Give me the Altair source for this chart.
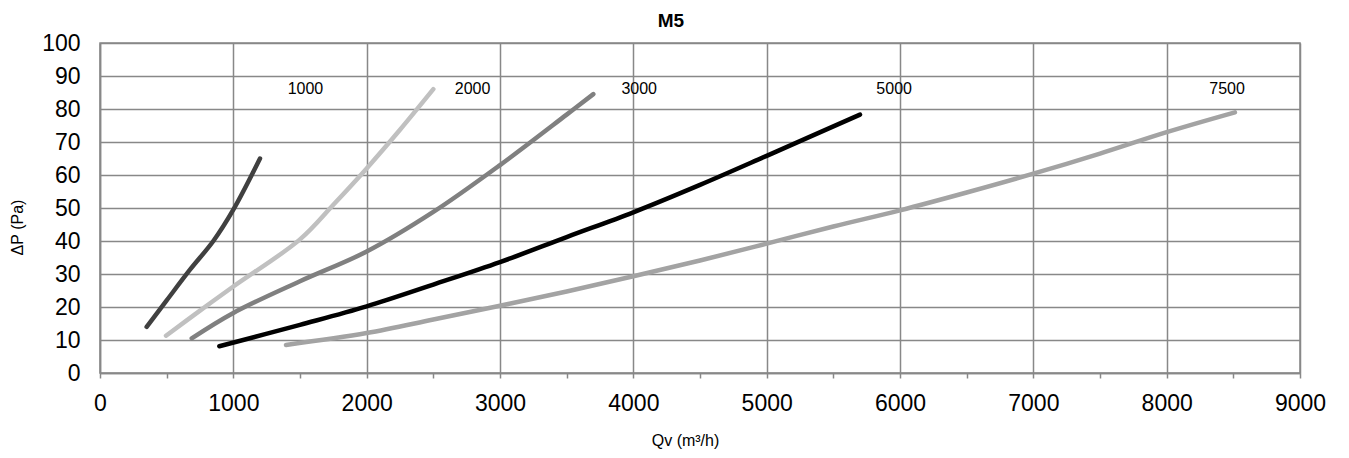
import altair as alt
import pandas as pd

# ---- data ----
series_names = ["1000", "2000", "3000", "5000", "7500"]
series_colors = ["#404040", "#c0c0c0", "#808080", "#000000", "#a3a3a3"]

s1000_q = [350, 500, 675, 850, 1000, 1200]
s1000_p = [14, 22, 31.3, 40.0, 49.5, 65]

s2000_q = [495, 750, 1000, 1500, 1750, 2000, 2250, 2500]
s2000_p = [11.3, 18.9, 26.2, 40.5, 51, 62, 73.7, 86]

s3000_q = [688, 1000, 1500, 2000, 2500, 3000, 3500, 3700]
s3000_p = [10.5, 18.2, 27.8, 36.8, 48.8, 63, 78.3, 84.5]

s5000_q = [895, 1500, 2000, 2500, 3000, 3500, 4000, 4500, 5000, 5700]
s5000_p = [8.1, 14.6, 20.2, 26.8, 33.6, 41.2, 48.7, 57, 65.8, 78.3]

s7500_q = [1395, 2000, 2500, 3000, 3500, 4000, 4500, 5000, 5500, 6000, 6500, 7000, 7500, 8000, 8512]
s7500_p = [8.5, 12.1, 16.2, 20.4, 24.7, 29.3, 34.1, 39.2, 44.4, 49.3, 54.7, 60.4, 66.5, 73, 79]

label_text = ["1000", "2000", "3000", "5000", "7500"]
label_q = [1541, 2794, 4044, 5956, 8453]
label_p = [86, 86, 86, 86, 86]

x_ticks = list(range(0, 9001, 500))
y_ticks = list(range(0, 101, 10))

# ---- build table ----
rows = []
for name, qs, ps in zip(series_names,
                        [s1000_q, s2000_q, s3000_q, s5000_q, s7500_q],
                        [s1000_p, s2000_p, s3000_p, s5000_p, s7500_p]):
    for i, (q, p) in enumerate(zip(qs, ps)):
        rows.append({"series": name, "q": q, "p": p, "idx": i})
df = pd.DataFrame(rows)
labels = pd.DataFrame({"t": label_text, "q": label_q, "p": label_p})

FONT = "Liberation Sans"
GRID = "#888888"

xscale = alt.Scale(domain=[0, 9000], nice=False, zero=False)
yscale = alt.Scale(domain=[0, 100], nice=False)

xaxis = alt.Axis(
    values=x_ticks,
    format="d",
    title="Qv (m³/h)",
    grid=True,
    gridOpacity={"condition": {"test": "datum.value % 1000 === 0", "value": 1}, "value": 0},
    labelExpr="datum.value % 1000 === 0 ? datum.label : ''",
    labelOverlap=False,
    labelFlush=False,
    labelFontSize=23,
    labelPadding=14,
    ticks=True,
    tickSize=5,
    tickColor=GRID,
    tickWidth=1.5,
    titleFontSize=16,
    titleFontWeight="normal",
    titleX=585,
    titleY=72,
    titleBaseline="alphabetic",
)
yaxis = alt.Axis(
    values=y_ticks,
    format="d",
    title="ΔP (Pa)",
    grid=True,
    ticks=True,
    tickSize=0,
    tickOpacity=0,
    labelFontSize=23,
    labelPadding=20,
    labelOverlap=False,
    labelFlush=False,
    titleFontSize=16,
    titleFontWeight="normal",
    titleX=-83,
    titleY=184,
    titleAngle=270,
    titleBaseline="middle",
    titleAlign="center",
)

lines = alt.Chart(df).mark_line(
    strokeWidth=4.5, strokeCap="round", strokeJoin="round", interpolate="catmull-rom"
).encode(
    x=alt.X("q:Q", scale=xscale, axis=xaxis),
    y=alt.Y("p:Q", scale=yscale, axis=yaxis),
    color=alt.Color("series:N", scale=alt.Scale(domain=series_names, range=series_colors), legend=None),
    order=alt.Order("idx:Q"),
)

texts = alt.Chart(labels).mark_text(
    fontSize=16, font=FONT, color="#000000", align="center", baseline="middle"
).encode(
    x=alt.X("q:Q", scale=xscale, axis=xaxis),
    y=alt.Y("p:Q", scale=yscale, axis=yaxis),
    text="t:N",
)

chart = alt.layer(lines, texts).properties(
    width=1200,
    height=330,
    autosize=alt.AutoSizeParams(type="none"),
    padding={"left": 92, "top": 35, "right": 41, "bottom": 77},
    title=alt.TitleParams("M5", fontSize=19, fontWeight="bold", font=FONT, dx=-29, offset=1, color="#000000"),
).configure_view(
    stroke=GRID, strokeWidth=1.5
).configure_axis(
    labelFont=FONT, titleFont=FONT, labelColor="#000000", titleColor="#000000",
    gridColor=GRID, gridWidth=1.5, domainColor=GRID, domainWidth=1.5,
)

chart.save("out.html", embed_options={"renderer": "svg", "actions": False})
